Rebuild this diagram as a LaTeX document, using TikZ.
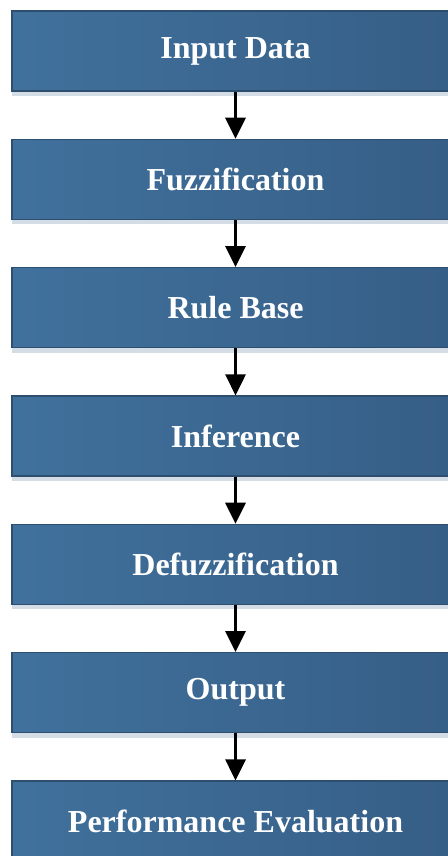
\documentclass[tikz,border=0pt]{standalone}
\usepackage{fontspec}
\setmainfont{Liberation Serif}
\usetikzlibrary{arrows.meta,shadows}
\definecolor{boxlight}{HTML}{40719C}
\definecolor{boxdark}{HTML}{365E86}
\definecolor{boxedge}{HTML}{2E4E70}
\definecolor{shadowc}{HTML}{B8C6D6}
\tikzset{
  stagebox/.style={draw=boxedge, line width=0.6pt, left color=boxlight, right color=boxdark,
    minimum width=223.5pt, minimum height=40pt, inner sep=0pt,
    font=\fontsize{16}{19}\selectfont\bfseries, text=white,
    drop shadow={shadow xshift=0pt, shadow yshift=-2.5pt, fill=shadowc, opacity=0.6}},
  flowarrow/.style={line width=1.5pt, -{Triangle[width=10pt,length=10.5pt]}}
}
\begin{document}
\begin{tikzpicture}[x=0.5pt,y=-0.5pt]
\useasboundingbox (0,0) rectangle (448,856);
\clip (0,0) rectangle (448,856);
\node[stagebox] (b1) at (235.5,51) {Input Data};
\node[stagebox] (b2) at (235.5,179.3) {Fuzzification};
\node[stagebox] (b3) at (235.5,307.7) {Rule Base};
\node[stagebox] (b4) at (235.5,436) {Inference};
\node[stagebox] (b5) at (235.5,564.3) {Defuzzification};
\node[stagebox] (b6) at (235.5,692.7) {Output};
\node[stagebox] (b7) at (235.5,821) {Performance Evaluation};
\foreach \a/\b in {b1/b2,b2/b3,b3/b4,b4/b5,b5/b6,b6/b7}
  \draw[flowarrow] (\a.south) -- (\b.north);
\end{tikzpicture}
\end{document}
